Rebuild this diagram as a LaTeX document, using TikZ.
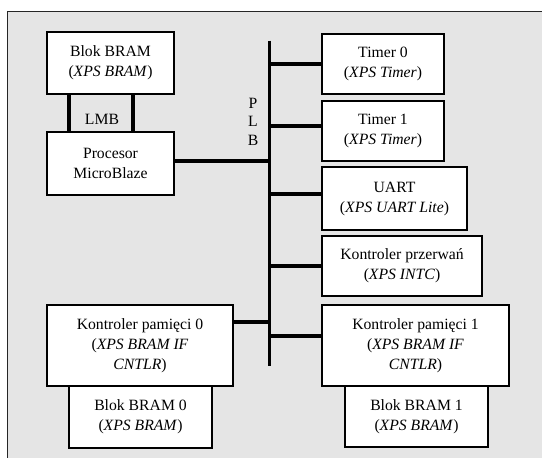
\documentclass[tikz,border=0pt]{standalone}
\usepackage{fontspec}
\setmainfont{Liberation Serif}
\begin{document}
\begin{tikzpicture}[x=1pt,y=-1pt,
  txt/.style={inner sep=0pt, align=center, font=\fontsize{15.7}{20}\selectfont},
  box/.style={txt, draw=black, line width=1.2pt, fill=white},
  bus/.style={line width=3.4pt}]
\useasboundingbox (0,0) rectangle (542,458);
\clip (0,0) rectangle (542,458);
\fill[white] (0,0) rectangle (542,458);
\draw[draw=black!85, line width=1pt, fill=black!10] (7.5,11) rectangle (570,480);

% left column
\node[box, minimum width=127pt, minimum height=62pt] (bram) at (110.5,63) {Blok BRAM\\(\textit{XPS BRAM})};
\node[box, minimum width=127pt, minimum height=63pt] (cpu) at (110.5,163.5) {Procesor\\MicroBlaze};
\node[box, minimum width=186pt, minimum height=81pt] (mc0) at (140,345.5) {Kontroler pamięci 0\\(\textit{XPS BRAM IF}\\\textit{CNTLR})};
\node[box, minimum width=143pt, minimum height=62pt] (b0) at (140.5,417) {Blok BRAM 0\\(\textit{XPS BRAM})};

% right column
\node[box, minimum width=122pt, minimum height=60pt] (t0) at (383,64) {Timer 0\\(\textit{XPS Timer})};
\node[box, minimum width=122pt, minimum height=60pt] (t1) at (383,131) {Timer 1\\(\textit{XPS Timer})};
\node[box, minimum width=145pt, minimum height=63pt] (uart) at (394.5,198.5) {UART\\(\textit{XPS UART Lite})};
\node[box, minimum width=160pt, minimum height=60pt] (intc) at (402,266) {Kontroler przerwań\\(\textit{XPS INTC})};
\node[box, minimum width=187pt, minimum height=81pt] (mc1) at (415.5,345.5) {Kontroler pamięci 1\\(\textit{XPS BRAM IF}\\\textit{CNTLR})};
\node[box, minimum width=143pt, minimum height=61pt] (b1) at (416.5,416.5) {Blok BRAM 1\\(\textit{XPS BRAM})};

% labels
\node[txt] (lmb) at (102,119) {LMB};
\node[txt, font=\fontsize{15.7}{18.5}\selectfont] (plb) at (253,121.5) {P\\L\\B};

% LMB links
\draw[bus] ([xshift=-41.5pt]bram.south) -- ([xshift=-41.5pt]bram.south |- cpu.north);
\draw[bus] ([xshift=22.5pt]bram.south) -- ([xshift=22.5pt]bram.south |- cpu.north);

% PLB bus
\coordinate (bustop) at (269.5,40.7);
\coordinate (busbot) at (269.5,366);
\draw[bus] (bustop) -- (busbot);

\draw[bus] ([yshift=2.5pt]cpu.east) -- ([yshift=2.5pt]cpu.east -| bustop);
\draw[bus] ([yshift=23.5pt]mc0.east) -- ([yshift=23.5pt]mc0.east -| bustop);
\draw[bus] (t0.west -| bustop) -- (t0.west);
\draw[bus] ([yshift=5pt]t1.west -| bustop) -- ([yshift=5pt]t1.west);
\draw[bus] ([yshift=4.5pt]uart.west -| bustop) -- ([yshift=4.5pt]uart.west);
\draw[bus] (intc.west -| bustop) -- (intc.west);
\draw[bus] ([yshift=9.5pt]mc1.west -| bustop) -- ([yshift=9.5pt]mc1.west);
\end{tikzpicture}
\end{document}
